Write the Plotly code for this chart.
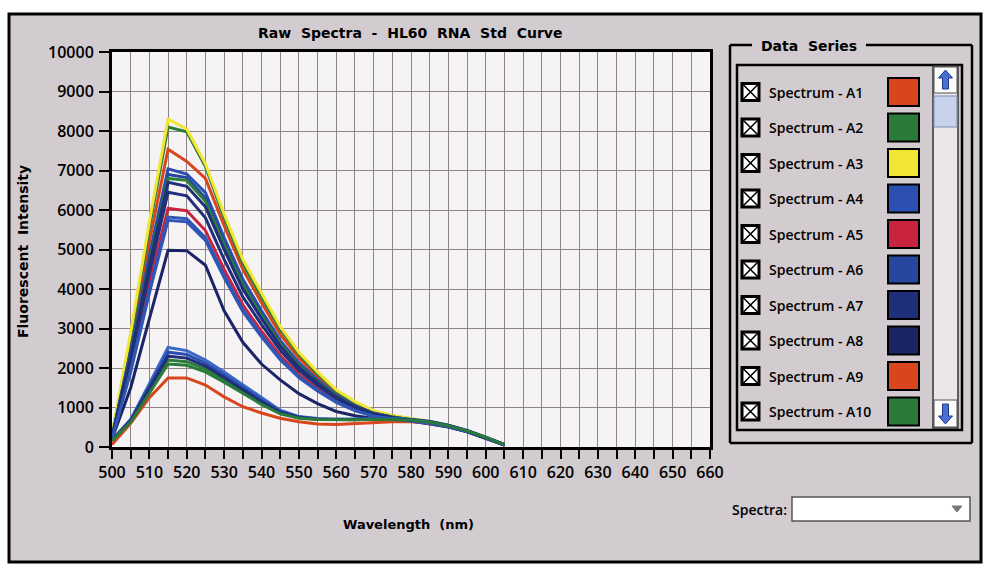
import plotly.graph_objects as go

# ---------------- data ----------------
wavelengths = [500, 505, 510, 515, 520, 525, 530, 535, 540, 545, 550,
               555, 560, 565, 570, 575, 580, 585, 590, 595, 600, 605]

series_names = ["Spectrum - A1", "Spectrum - A2", "Spectrum - A3", "Spectrum - A4",
                "Spectrum - A5", "Spectrum - A6", "Spectrum - A7", "Spectrum - A8",
                "Spectrum - A9", "Spectrum - A10", "Spectrum - A11", "Spectrum - A12",
                "Spectrum - B1", "Spectrum - B2", "Spectrum - B3", "Spectrum - B4",
                "Spectrum - B5", "Spectrum - B6"]

series_colors = ["#d9461e", "#2c7a3a", "#f2e632", "#2b4fb2", "#c9243f", "#27479e",
                 "#1f2f7a", "#1a2466", "#d9461e", "#2a7a3a", "#3056b8", "#2e7d3a",
                 "#1f2f7a", "#2f55b5", "#3a68c8", "#2a4fb0", "#1f2f7a", "#2a7a3a"]

A1 = [260, 2600, 5200, 7540, 7230, 6800, 5600, 4500, 3650, 2850, 2250, 1780, 1380, 1090, 880, 780, 700, 630, 540, 410, 240, 60]
A2 = [280, 2800, 5550, 8100, 7980, 7100, 5800, 4650, 3800, 2980, 2350, 1850, 1420, 1120, 900, 790, 710, 640, 540, 410, 240, 60]
A3 = [300, 2900, 5700, 8300, 8050, 7170, 5900, 4750, 3900, 3050, 2400, 1900, 1450, 1150, 920, 800, 720, 650, 550, 420, 250, 60]
A4 = [250, 2450, 4850, 7040, 6910, 6440, 5300, 4250, 3450, 2700, 2130, 1700, 1320, 1050, 860, 760, 690, 620, 530, 400, 240, 55]
A5 = [220, 2050, 4150, 6040, 5980, 5480, 4500, 3600, 2930, 2320, 1840, 1480, 1170, 950, 800, 730, 670, 600, 515, 390, 230, 55]
A6 = [250, 2400, 4750, 6900, 6820, 6300, 5180, 4150, 3380, 2650, 2090, 1670, 1300, 1040, 850, 760, 690, 620, 530, 400, 240, 55]
A7 = [230, 2200, 4400, 6450, 6360, 5800, 4750, 3800, 3100, 2450, 1940, 1560, 1230, 990, 820, 740, 680, 610, 520, 395, 235, 55]
A8 = [200, 1500, 3250, 4980, 4970, 4600, 3450, 2650, 2100, 1700, 1350, 1100, 900, 790, 720, 680, 650, 590, 505, 385, 225, 50]
A9 = [60, 600, 1250, 1750, 1750, 1570, 1270, 1020, 860, 730, 640, 580, 570, 590, 620, 640, 640, 610, 520, 400, 240, 55]
A10 = [160, 650, 1420, 2200, 2160, 1980, 1700, 1400, 1110, 860, 740, 700, 690, 690, 700, 700, 685, 635, 540, 410, 245, 60]
A11 = [210, 1950, 3950, 5820, 5780, 5300, 4350, 3480, 2830, 2240, 1780, 1440, 1140, 930, 790, 720, 660, 600, 510, 390, 230, 55]
A12 = [240, 2350, 4680, 6800, 6750, 6220, 5120, 4100, 3330, 2620, 2060, 1650, 1290, 1030, 850, 760, 690, 620, 530, 400, 235, 55]
B1 = [240, 2300, 4600, 6700, 6600, 6080, 5000, 4000, 3250, 2560, 2020, 1620, 1270, 1020, 840, 750, 680, 610, 520, 395, 235, 55]
B2 = [210, 1900, 3900, 5740, 5700, 5230, 4290, 3430, 2790, 2210, 1760, 1420, 1130, 920, 780, 720, 660, 600, 510, 390, 230, 55]
B3 = [180, 700, 1600, 2520, 2440, 2200, 1900, 1570, 1240, 930, 770, 720, 700, 700, 720, 720, 700, 650, 550, 420, 250, 60]
B4 = [170, 680, 1530, 2400, 2340, 2120, 1820, 1500, 1190, 900, 760, 710, 700, 700, 710, 710, 690, 640, 545, 415, 245, 60]
B5 = [170, 660, 1480, 2300, 2250, 2050, 1760, 1450, 1150, 880, 750, 705, 695, 695, 705, 705, 690, 640, 545, 415, 245, 60]
B6 = [160, 630, 1360, 2100, 2070, 1900, 1640, 1350, 1080, 840, 730, 695, 685, 690, 700, 700, 685, 635, 540, 410, 245, 60]

series_values = [A1, A2, A3, A4, A5, A6, A7, A8, A9, A10, A11, A12, B1, B2, B3, B4, B5, B6]

x_ticks = [500, 510, 520, 530, 540, 550, 560, 570, 580, 590, 600, 610, 620, 630, 640, 650, 660]
y_ticks = [0, 1000, 2000, 3000, 4000, 5000, 6000, 7000, 8000, 9000, 10000]
y_tick_labels = ["0", "1000", "2000", "3000", "4000", "5000", "6000", "7000", "8000", "9000", "10000"]

chart_title = "Raw\u00a0 Spectra\u00a0 -\u00a0 HL60\u00a0 RNA\u00a0 Std\u00a0 Curve"
x_title = "Wavelength\u00a0 (nm)"
y_title = "Fluorescent\u00a0 Intensity"
legend_title = "Data\u00a0 Series"
visible_legend_rows = 10

# ---------------- layout geometry (pixels) ----------------
W, H = 983, 565
L, R, T, B = 112, 710, 52, 447


def px(x):
    return (x - L) / (R - L)


def py(y):
    return (B - y) / (B - T)


fig = go.Figure()
for name, color, vals in zip(series_names, series_colors, series_values):
    fig.add_trace(go.Scatter(x=wavelengths, y=vals, mode="lines", name=name,
                             line=dict(color=color, width=3), showlegend=False))

tick_font = dict(family="Open Sans", size=16, color="black", weight=600)
grid_col = "#8d8388"

fig.update_xaxes(range=[500, 660], tickvals=x_ticks, ticks="outside", ticklen=9,
                 tickwidth=2, tickcolor="black", showline=True, linecolor="black",
                 linewidth=3, mirror=True, showgrid=True, gridcolor=grid_col, gridwidth=1,
                 zeroline=False, tickfont=tick_font,
                 minor=dict(dtick=5, tick0=500, ticks="outside", ticklen=9, tickwidth=2,
                            tickcolor="black", showgrid=True, gridcolor=grid_col, gridwidth=1))
fig.update_yaxes(range=[0, 10000], tickvals=y_ticks, ticktext=y_tick_labels,
                 ticks="outside", ticklen=10,
                 tickwidth=2, tickcolor="black", showline=True, linecolor="black",
                 linewidth=3, mirror=True, showgrid=True, gridcolor=grid_col, gridwidth=1,
                 zeroline=False, tickfont=tick_font, ticklabelstandoff=2)

shapes = []
annotations = []

# background frame
shapes.append(dict(type="rect", xref="paper", yref="paper", layer="below",
                   x0=px(9), x1=px(981), y0=py(562), y1=py(14),
                   fillcolor="#d2cbcf", line=dict(color="black", width=3)))
# plot area
shapes.append(dict(type="rect", xref="paper", yref="paper", layer="below",
                   x0=0, x1=1, y0=0, y1=1, fillcolor="#f5f3f3", line=dict(width=0)))

# titles
bold = dict(family="DejaVu Sans", size=14, color="black", weight="bold")
annotations.append(dict(text=chart_title, x=px(410), y=py(33), xref="paper", yref="paper",
                        showarrow=False, font=bold, xanchor="center", yanchor="middle"))
annotations.append(dict(text=x_title, x=px(408), y=py(524), xref="paper", yref="paper",
                        showarrow=False, font=dict(family="DejaVu Sans", size=13,
                                                   color="black", weight="bold"),
                        xanchor="center", yanchor="middle"))
annotations.append(dict(text=y_title, x=px(23), y=py(252), xref="paper", yref="paper",
                        showarrow=False, font=bold, textangle=-90,
                        xanchor="center", yanchor="middle"))

# ---- Data Series group box ----
gb_l, gb_r, gb_t, gb_b = 730, 972, 45, 443
line_k = dict(color="black", width=2.5)
shapes.append(dict(type="line", xref="paper", yref="paper", x0=px(gb_l), x1=px(752),
                   y0=py(gb_t), y1=py(gb_t), line=line_k))
shapes.append(dict(type="line", xref="paper", yref="paper", x0=px(866), x1=px(gb_r),
                   y0=py(gb_t), y1=py(gb_t), line=line_k))
shapes.append(dict(type="line", xref="paper", yref="paper", x0=px(gb_l), x1=px(gb_l),
                   y0=py(gb_t), y1=py(gb_b), line=line_k))
shapes.append(dict(type="line", xref="paper", yref="paper", x0=px(gb_r), x1=px(gb_r),
                   y0=py(gb_t), y1=py(gb_b), line=line_k))
shapes.append(dict(type="line", xref="paper", yref="paper", x0=px(gb_l), x1=px(gb_r),
                   y0=py(gb_b), y1=py(gb_b), line=line_k))
annotations.append(dict(text=legend_title, x=px(809), y=py(46), xref="paper", yref="paper",
                        showarrow=False, font=dict(family="DejaVu Sans", size=14,
                                                   color="black", weight="bold"),
                        xanchor="center", yanchor="middle"))

# inner list box
shapes.append(dict(type="rect", xref="paper", yref="paper", x0=px(737), x1=px(962),
                   y0=py(430), y1=py(65), line=dict(color="black", width=2.5)))

# scrollbar
shapes.append(dict(type="rect", xref="paper", yref="paper", x0=px(933), x1=px(958),
                   y0=py(428), y1=py(66), fillcolor="#ebe7e9",
                   line=dict(color="#333333", width=1.5)))
shapes.append(dict(type="rect", xref="paper", yref="paper", x0=px(934), x1=px(957),
                   y0=py(93), y1=py(67), fillcolor="#fbfbfb",
                   line=dict(color="#555555", width=1)))
shapes.append(dict(type="rect", xref="paper", yref="paper", x0=px(934), x1=px(957),
                   y0=py(127), y1=py(96), fillcolor="#c8d2ea",
                   line=dict(color="#7d8db8", width=1)))
shapes.append(dict(type="rect", xref="paper", yref="paper", x0=px(934), x1=px(957),
                   y0=py(427), y1=py(400), fillcolor="#fbfbfb",
                   line=dict(color="#555555", width=1)))


def poly(points):
    return "M " + " L ".join(f"{px(a):.5f},{py(b):.5f}" for a, b in points) + " Z"


up_pts = [(945.5, 70), (952.5, 78), (948.5, 78), (948.5, 89), (942.5, 89), (942.5, 78), (938.5, 78)]
dn_pts = [(945.5, 424), (952.5, 416), (948.5, 416), (948.5, 404), (942.5, 404), (942.5, 416), (938.5, 416)]
for pts in (up_pts, dn_pts):
    shapes.append(dict(type="path", xref="paper", yref="paper", path=poly(pts),
                       fillcolor="#4a6fd0", line=dict(color="#1f3a8a", width=1)))

# legend rows
row_font = dict(family="Open Sans", size=14, color="black", weight=600)
for i in range(visible_legend_rows):
    cy = 92 + 35.5 * i
    shapes.append(dict(type="rect", xref="paper", yref="paper", x0=px(742), x1=px(759),
                       y0=py(cy + 8.5), y1=py(cy - 8.5), fillcolor="white",
                       line=dict(color="black", width=3)))
    shapes.append(dict(type="path", xref="paper", yref="paper",
                       path=(f"M {px(743):.5f},{py(cy - 7.5):.5f} L {px(758):.5f},{py(cy + 7.5):.5f} "
                             f"M {px(743):.5f},{py(cy + 7.5):.5f} L {px(758):.5f},{py(cy - 7.5):.5f}"),
                       line=dict(color="black", width=1.5)))
    annotations.append(dict(text=series_names[i], x=px(767), y=py(cy), xref="paper",
                            yref="paper", showarrow=False, font=row_font,
                            xanchor="left", yanchor="middle"))
    shapes.append(dict(type="rect", xref="paper", yref="paper", x0=px(888), x1=px(919),
                       y0=py(cy + 14), y1=py(cy - 14), fillcolor=series_colors[i],
                       line=dict(color="black", width=2)))

# Spectra dropdown
annotations.append(dict(text="Spectra:", x=px(789), y=py(509), xref="paper", yref="paper",
                        showarrow=False, font=row_font, xanchor="right", yanchor="middle"))
shapes.append(dict(type="rect", xref="paper", yref="paper", x0=px(792), x1=px(970),
                   y0=py(521), y1=py(497), fillcolor="white",
                   line=dict(color="#555555", width=1.5)))
shapes.append(dict(type="path", xref="paper", yref="paper",
                   path=poly([(952, 506), (962, 506), (957, 512)]),
                   fillcolor="#777777", line=dict(color="#777777", width=1)))

fig.update_layout(width=W, height=H, margin=dict(l=L, r=W - R, t=T, b=H - B),
                  paper_bgcolor="white", plot_bgcolor="rgba(0,0,0,0)",
                  shapes=shapes, annotations=annotations, showlegend=False)

fig.write_html("out.html", config={"displayModeBar": False})
